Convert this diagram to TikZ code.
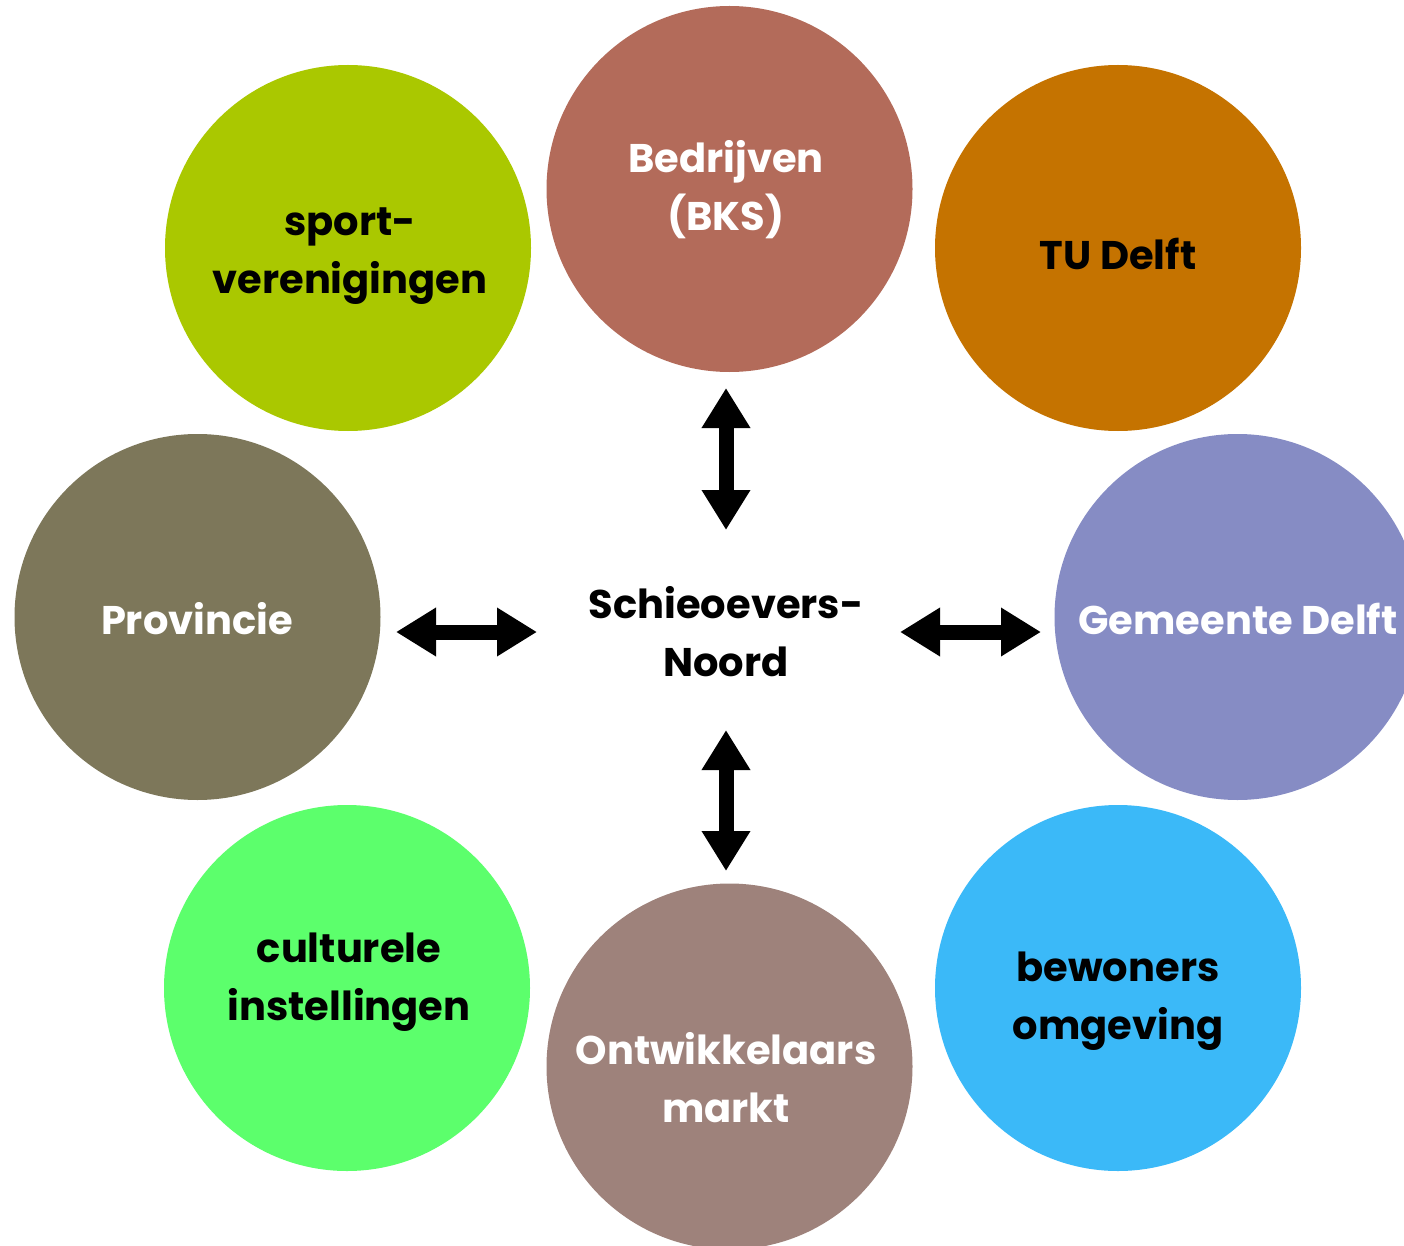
\documentclass[tikz,border=0pt]{standalone}
\usepackage{fontspec}
\setmainfont{Poppins}
\usetikzlibrary{arrows.meta}
\definecolor{cBed}{RGB}{179,107,90}
\definecolor{cTU}{RGB}{197,115,0}
\definecolor{cSport}{RGB}{170,200,0}
\definecolor{cProv}{RGB}{125,119,90}
\definecolor{cGem}{RGB}{134,140,196}
\definecolor{cCult}{RGB}{92,255,108}
\definecolor{cBew}{RGB}{59,185,248}
\definecolor{cOnt}{RGB}{158,130,123}
\tikzset{
  blob/.style={circle, inner sep=0pt, minimum size=366pt, draw=none},
  lbl/.style={align=center, font=\fontsize{40}{58}\selectfont\bfseries, inner sep=0pt},
  dbl/.style={line width=15pt, {Triangle[length=40pt,width=46pt]}-{Triangle[length=40pt,width=46pt]}}
}
\begin{document}
\begin{tikzpicture}[x=1pt,y=-1pt]
\useasboundingbox (0,0) rectangle (1404,1246);
\clip (0,0) rectangle (1404,1246);
% circles
\node[blob, fill=cBed]   (bed)  at (729.5,189) {};
\node[blob, fill=cTU]    (tu)   at (1118,248) {};
\node[blob, fill=cSport] (sport) at (348,248) {};
\node[blob, fill=cProv]  (prov) at (197.5,617) {};
\node[blob, fill=cGem]   (gem)  at (1237.5,617) {};
\node[blob, fill=cCult]  (cult) at (347,988) {};
\node[blob, fill=cBew]   (bew)  at (1118,988) {};
\node[blob, fill=cOnt]   (ont)  at (729.5,1066.5) {};
% labels
\node[lbl, white] (bedT) at (726,190) {Bedrijven\\(BKS)};
\node[lbl, black] (tuT) at (1118,254) {TU Delft};
\node[lbl, black] (sportT) at (350,256) {sport-\\verenigingen};
\node[lbl, white] (provT) at (197,619) {Provincie};
\node[lbl, white] (gemT) at (1238,619) {Gemeente Delft};
\node[lbl, black] (cultT) at (349,982) {culturele\\instellingen};
\node[lbl, black] (bewT) at (1118,1001) {bewoners\\omgeving};
\node[lbl, white] (ontT) at (726,1078) {Ontwikkelaars\\markt};
\node[lbl, black] (centre) at (726,632) {Schieoevers-\\Noord};
% arrows
\coordinate (a1) at (726,388);
\coordinate (a2) at (726,530);
\coordinate (b1) at (726,730);
\coordinate (b2) at (726,871);
\coordinate (c1) at (396,632);
\coordinate (c2) at (537,632);
\coordinate (d1) at (900,632);
\coordinate (d2) at (1041,632);
\draw[dbl] (a1) -- (a2);
\draw[dbl] (b1) -- (b2);
\draw[dbl] (c1) -- (c2);
\draw[dbl] (d1) -- (d2);
\end{tikzpicture}
\end{document}
